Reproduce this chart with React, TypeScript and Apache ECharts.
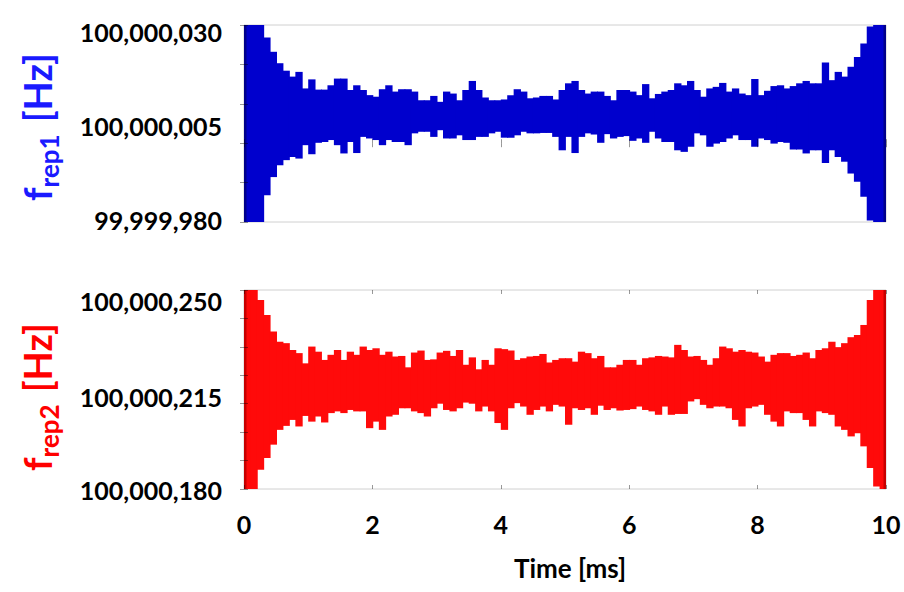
import React, { useEffect, useRef } from 'react';
import * as echarts from 'echarts';

// Sampling step of the envelope (ms) and frequency base (Hz)
const STEP_MS = 0.1;
const BASE_HZ = 100000000;

// Time axis ticks
const timeTicks = ['0', '2', '4', '6', '8', '10'];

// f_rep1: upper / lower envelope, Hz above 100,000,000 (one value per 0.1 ms)
const rep1Upper = [
  30, 30, 30, 26.8, 23.2, 20.3, 18.4, 16.9, 18.1, 13.9,
  16.2, 13.6, 13.6, 14.7, 16.4, 16.4, 13.5, 14.7, 13.5, 12.2,
  11.8, 13.7, 14.7, 13.1, 13.7, 13.7, 13.1, 10.9, 10.9, 12.0,
  10.5, 13.1, 12.6, 10.9, 13.5, 15.8, 13.5, 11.6, 10.9, 10.9,
  11.1, 12.2, 13.7, 13.1, 11.4, 11.6, 12.0, 12.0, 11.1, 13.5,
  15.2, 15.8, 13.5, 12.6, 13.1, 13.1, 12.0, 10.9, 13.5, 13.5,
  13.1, 12.2, 15.0, 11.4, 12.5, 13.1, 13.5, 15.2, 14.7, 15.8,
  13.5, 11.8, 13.9, 14.3, 15.3, 13.1, 13.9, 12.6, 12.2, 16.3,
  12.2, 13.3, 14.5, 14.7, 13.9, 14.5, 15.2, 15.8, 15.2, 15.2,
  20.5, 16.0, 18.1, 16.9, 19.4, 21.9, 25.3, 29.6, 30, 30,
];
const rep1Lower = [
  -20, -20, -20, -13.2, -8.6, -5.6, -4.3, -3.5, -3.9, -0.5,
  -2.8, 0.1, 0.3, 0.8, -0.5, -2.6, 0.3, -2.5, 1.6, 1.2,
  0.8, -0.5, 0.8, 0.3, 0.3, -0.5, 2.5, 2.9, 2.9, 1.6,
  3.3, 1.2, 1.2, 2.0, 0.8, 0.8, 1.6, 1.6, 2.5, 2.9,
  1.4, 1.4, 2.0, 2.9, 2.5, 2.5, 2.6, 2.6, 1.6, -1.8,
  1.6, -2.5, 1.6, 2.5, 2.2, 0.1, 2.3, 1.2, 1.6, 1.8,
  0.6, 1.2, 0.1, 2.9, 1.2, 0.3, 0.3, -1.8, -2.2, -0.9,
  2.5, 2.0, -0.9, -0.1, 0.3, 1.2, 2.0, 0.8, 0.8, -0.9,
  1.2, 0.8, -0.1, 0.3, 0.1, -1.6, -1.6, -2.6, -1.8, -1.8,
  -5.0, -1.8, -3.5, -4.7, -7.7, -9.8, -13.6, -19.6, -20, -20,
];
const rep1TickLabels = ['99,999,980', '100,000,005', '100,000,030'];

// f_rep2: upper / lower envelope, Hz above 100,000,000
const rep2Upper = [
  250, 250, 246.5, 241.2, 235.4, 231.8, 231.3, 228.9, 227.8, 224.2,
  230.1, 228.3, 225.4, 227.2, 228.9, 225.4, 228.3, 227.2, 230.1, 228.9,
  229.5, 227.2, 228.3, 226.6, 226.8, 222.8, 228.0, 228.7, 225.4, 225.6,
  228.0, 228.6, 226.8, 228.9, 223.7, 226.3, 222.1, 225.4, 223.7, 229.5,
  229.2, 228.7, 225.4, 226.0, 226.6, 226.8, 227.5, 224.5, 225.4, 226.0,
  226.0, 224.8, 228.3, 227.8, 226.0, 226.8, 222.8, 222.8, 223.7, 225.4,
  225.4, 223.7, 226.0, 226.3, 226.8, 226.6, 226.3, 230.7, 228.9, 226.6,
  226.8, 225.4, 223.7, 226.0, 230.1, 229.5, 228.3, 228.9, 228.3, 228.0,
  226.6, 224.8, 227.2, 227.8, 227.8, 226.8, 227.2, 228.0, 226.0, 228.9,
  229.5, 231.8, 229.9, 231.3, 233.4, 234.2, 237.7, 246.5, 250, 250,
];
const rep2Lower = [
  180, 180, 186.8, 190.9, 195.6, 200.8, 202.2, 204.3, 202.0, 205.7,
  203.7, 205.5, 203.4, 206.7, 207.3, 206.7, 207.8, 207.3, 207.3, 201.4,
  203.7, 200.8, 205.5, 206.1, 208.4, 208.4, 207.3, 206.7, 205.5, 208.4,
  210.0, 207.8, 207.3, 208.4, 210.4, 210.0, 207.3, 209.0, 207.3, 203.2,
  200.8, 208.4, 210.2, 209.0, 206.1, 207.8, 209.0, 207.3, 209.6, 209.0,
  202.6, 208.4, 207.8, 208.4, 206.1, 209.3, 207.8, 208.4, 207.6, 207.8,
  208.1, 209.0, 207.8, 207.3, 206.1, 209.0, 206.1, 206.4, 206.4, 210.8,
  211.6, 209.6, 208.4, 209.0, 209.0, 208.4, 204.3, 202.0, 208.4, 209.0,
  209.6, 206.1, 203.7, 202.0, 207.3, 206.7, 206.7, 204.3, 202.0, 207.3,
  206.7, 206.1, 202.0, 200.8, 198.5, 199.6, 195.0, 187.4, 180.9, 180,
];
const rep2TickLabels = ['100,000,180', '100,000,215', '100,000,250'];

const FONT = 'Lato';
const BLUE_FILL = '#0000cd';
const BLUE_EDGE = '#00008b';
const BLUE_TEXT = '#1a1aff';
const RED_FILL = '#ff0a0a';
const RED_EDGE = '#c80000';
const RED_TEXT = '#ff0000';
const TICK = 'rgba(0,0,0,0.4)';

function envelopeData(upper: number[], lower: number[]) {
  return upper.map((u, i) => [i * STEP_MS, lower[i], u]);
}

function envelopeRenderer(fill: string, edge: string, n: number) {
  return (params: any, api: any) => {
    const t0 = api.value(0);
    const lo = api.value(1);
    const hi = api.value(2);
    const a = api.coord([t0, hi]);
    const b = api.coord([t0 + STEP_MS, lo]);
    const last = params.dataIndex === n - 1;
    const children: any[] = [
      {
        type: 'rect',
        shape: { x: a[0], y: a[1], width: b[0] - a[0] + (last ? 0 : 0.9), height: b[1] - a[1] },
        style: { fill },
      },
    ];
    if (params.dataIndex === 0) {
      children.push({
        type: 'rect',
        shape: { x: a[0], y: a[1], width: 2.5, height: b[1] - a[1] },
        style: { fill: edge },
      });
    }
    if (last) {
      children.push({
        type: 'rect',
        shape: { x: b[0] - 2.5, y: a[1], width: 2.5, height: b[1] - a[1] },
        style: { fill: edge },
      });
    }
    return { type: 'group', children };
  };
}

function labelRich(offsets: number[]) {
  const rich: any = {};
  offsets.forEach((d, i) => {
    rich['o' + i] = {
      fontFamily: FONT,
      fontWeight: 'bold',
      fontSize: 25,
      lineHeight: 26,
      color: '#000',
      padding: d >= 0 ? [2 * d, 0, 0, 0] : [0, 0, -2 * d, 0],
    };
  });
  return rich;
}

function frameAxes(gridIndex: number) {
  const tickAxis = {
    gridIndex,
    type: 'value',
    min: 0,
    max: 10,
    interval: 2,
    axisLine: { show: false },
    axisTick: { show: true, inside: true, length: 4, lineStyle: { color: TICK, width: 1 } },
    axisLabel: { show: false },
    splitLine: { show: false },
    z: 10,
  };
  return [
    { ...tickAxis, position: 'bottom' },
    { ...tickAxis, position: 'top' },
  ];
}

function yAxes(gridIndex: number, min: number, max: number, labelInterval: number, labels: string[], offsets: number[]) {
  const tickAxis = {
    gridIndex,
    type: 'value',
    min,
    max,
    interval: 10,
    axisLine: { show: false },
    axisTick: { show: true, inside: true, length: 4, lineStyle: { color: TICK, width: 1 } },
    axisLabel: { show: false },
    splitLine: { show: false },
    z: 10,
  };
  return [
    { ...tickAxis, position: 'left' },
    { ...tickAxis, position: 'right' },
    {
      gridIndex,
      type: 'value',
      min,
      max,
      interval: labelInterval,
      position: 'left',
      axisLine: { show: false },
      axisTick: { show: false },
      splitLine: { show: false },
      axisLabel: {
        show: true,
        margin: 22,
        formatter: (v: number) => {
          const idx = Math.round((v - min) / labelInterval);
          const txt = labels[idx] ?? (BASE_HZ + v).toLocaleString('en-US');
          return '{o' + idx + '|' + txt + '}';
        },
        rich: labelRich(offsets),
      },
    },
  ];
}

function buildOption() {
  const xa = [...frameAxes(0), ...frameAxes(1)];
  // bottom x axis of second grid shows the time labels
  (xa[2] as any).axisLabel = {
    show: true,
    margin: 22,
    fontFamily: FONT,
    fontWeight: 'bold',
    fontSize: 25,
    color: '#000',
    formatter: (v: number, i: number) => timeTicks[i] ?? String(v),
  };
  const ya = [
    ...yAxes(0, -20, 30, 25, rep1TickLabels, [-2, 2.5, 7]),
    ...yAxes(1, 180, 250, 35, rep2TickLabels, [1, 7.5, 11]),
  ];
  const titleRich = (color: string) => ({
    f: { fontFamily: FONT, fontWeight: 'bold', fontSize: 38, lineHeight: 50, fill: color, verticalAlign: 'middle' },
    s: { fontFamily: FONT, fontWeight: 'bold', fontSize: 26, lineHeight: 26, fill: color, verticalAlign: 'bottom' },
    u: { fontFamily: FONT, fontWeight: 'bold', fontSize: 38, lineHeight: 50, fill: color, verticalAlign: 'middle', padding: [0, 0, 0, 12] },
  });
  return {
    animation: false,
    backgroundColor: '#ffffff',
    grid: [
      { left: 244, top: 25, width: 642, height: 197, show: true, borderColor: '#d0d0d0', borderWidth: 1, backgroundColor: 'transparent' },
      { left: 244, top: 290, width: 642, height: 199, show: true, borderColor: '#d0d0d0', borderWidth: 1, backgroundColor: 'transparent' },
    ],
    xAxis: xa,
    yAxis: ya,
    series: [
      {
        type: 'custom',
        name: 'frep1',
        xAxisIndex: 0,
        yAxisIndex: 0,
        clip: true,
        encode: { x: 0, y: [1, 2] },
        renderItem: envelopeRenderer(BLUE_FILL, BLUE_EDGE, rep1Upper.length),
        data: envelopeData(rep1Upper, rep1Lower),
        z: 2,
      },
      {
        type: 'custom',
        name: 'frep2',
        xAxisIndex: 2,
        yAxisIndex: 3,
        clip: true,
        encode: { x: 0, y: [1, 2] },
        renderItem: envelopeRenderer(RED_FILL, RED_EDGE, rep2Upper.length),
        data: envelopeData(rep2Upper, rep2Lower),
        z: 2,
      },
    ],
    graphic: [
      {
        type: 'text',
        x: 37,
        y: 127,
        rotation: Math.PI / 2,
        style: {
          text: '{f|f}{s|rep1}{u|[Hz]}',
          rich: titleRich(BLUE_TEXT),
          align: 'center',
          verticalAlign: 'middle',
          fill: BLUE_TEXT,
          fontFamily: FONT,
          fontWeight: 'bold',
          fontSize: 38,
        },
      },
      {
        type: 'text',
        x: 37,
        y: 397,
        rotation: Math.PI / 2,
        style: {
          text: '{f|f}{s|rep2}{u|[Hz]}',
          rich: titleRich(RED_TEXT),
          align: 'center',
          verticalAlign: 'middle',
          fill: RED_TEXT,
          fontFamily: FONT,
          fontWeight: 'bold',
          fontSize: 38,
        },
      },
      {
        type: 'text',
        x: 570,
        y: 568,
        style: {
          text: 'Time [ms]',
          align: 'center',
          verticalAlign: 'middle',
          fill: '#000',
          fontFamily: FONT,
          fontWeight: 'bold',
          fontSize: 26,
        },
      },
    ],
  };
}

export default function App() {
  const ref = useRef<HTMLDivElement>(null);
  useEffect(() => {
    if (!ref.current) return;
    const chart = echarts.init(ref.current, null, { renderer: 'svg' });
    chart.setOption(buildOption() as any);
    return () => chart.dispose();
  }, []);
  return (
    <div
      ref={ref}
      style={{ position: 'fixed', left: 0, top: 0, width: 904, height: 592, background: '#fff' }}
    />
  );
}
